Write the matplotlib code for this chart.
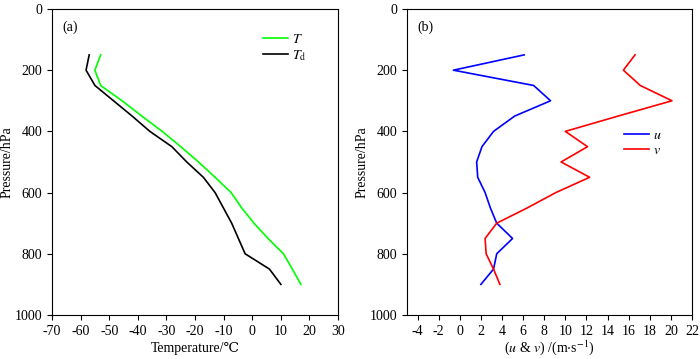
import matplotlib
matplotlib.use('Agg')
from matplotlib import pyplot as plt

plt.rcParams['font.family'] = ['Liberation Serif', 'DejaVu Serif', 'DejaVu Sans']
plt.rcParams['mathtext.fontset'] = 'stix'
plt.rcParams['axes.unicode_minus'] = False
plt.rcParams['font.size'] = 10

## temperature profile (a)
p_T = [150, 200, 250, 300, 350, 400, 450, 500, 550, 600, 650, 700, 750, 800, 850, 900]
T = [-53.0, -55.0, -53.0, -45.5, -38.6, -31.5, -25.0, -18.8, -13.0, -7.4, -3.7, 0.6, 5.5, 10.9, 14.0, 17.0]
p_Td = [150, 200, 250, 300, 350, 400, 450, 500, 550, 600, 700, 800, 850, 900]
Td = [-57.0, -58.1, -55.0, -48.5, -42.0, -35.8, -28.1, -22.9, -17.1, -13.0, -7.2, -2.5, 6.0, 10.0]

## wind profile (b)
p_wind = [150, 200, 250, 300, 350, 400, 450, 500, 550, 600, 650, 700, 750, 800, 850, 900]
u = [6.1, -0.6, 7.0, 8.6, 5.2, 3.2, 2.1, 1.6, 1.7, 2.4, 2.9, 3.5, 5.0, 3.5, 3.2, 2.0]
v = [16.6, 15.5, 17.1, 20.1, 15.0, 10.0, 12.1, 9.6, 12.3, 9.1, 6.4, 3.5, 2.4, 2.5, 3.2, 3.8]

fig = plt.figure(figsize=(7, 3.59), dpi=100)
ax1 = fig.add_axes([0.0743, 0.1226, 0.4087, 0.8524])
ax2 = fig.add_axes([0.5814, 0.1226, 0.4072, 0.8524])

ax1.plot(T, p_T, color='#00ff00', lw=1.2, label=r'$T$')
ax1.plot(Td, p_Td, color='black', lw=1.2, label=r'$T_{\rm d}$')
ax1.set_xlim(-70, 30)
ax1.set_xticks(range(-70, 31, 10))
ax1.set_xlabel('Temperature/℃', labelpad=3)
ax1.text(0.035, 0.94, '(a)', transform=ax1.transAxes, va='center', ha='left')
ax1.legend(loc='center left', bbox_to_anchor=(0.737, 0.873), frameon=False,
           borderpad=0, borderaxespad=0, handlelength=1.8, handletextpad=0.3,
           labelspacing=0.15)

ax2.plot(u, p_wind, color='#0000ff', lw=1.2, label=r'$u$')
ax2.plot(v, p_wind, color='#ff0000', lw=1.2, label=r'$v$')
ax2.set_xlim(-5, 22)
ax2.set_xticks(range(-4, 23, 2))
ax2.set_xlabel(r'($u$ & $v$) /(m$\cdot$s$^{-1}$)', labelpad=0.5)
ax2.text(0.035, 0.94, '(b)', transform=ax2.transAxes, va='center', ha='left')
ax2.legend(loc='center left', bbox_to_anchor=(0.762, 0.563), frameon=False,
           borderpad=0, borderaxespad=0, handlelength=1.8, handletextpad=0.3,
           labelspacing=0.15)

for ax in (ax1, ax2):
	ax.set_ylim(1000, 0)
	ax.set_yticks(range(0, 1001, 200))
	ax.set_ylabel('Pressure/hPa', labelpad=1)
	ax.tick_params(direction='out', length=3.5, width=0.8, labelsize=10)

fig.savefig('out.png', dpi=100)
